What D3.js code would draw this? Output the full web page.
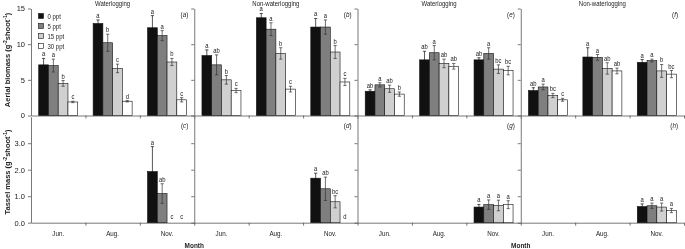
<!DOCTYPE html>
<html><head><meta charset="utf-8">
<script src="https://cdn.jsdelivr.net/npm/d3@7"></script>
<style>body{margin:0;background:#fff}svg{display:block;font-family:"Liberation Sans",Arial,sans-serif;filter:grayscale(1)}</style>
</head><body><svg id="c" width="685" height="249"></svg>
<script>
const months = ["Jun.", "Aug.", "Nov."];
const salinity = ["0 ppt", "5 ppt", "15 ppt", "30 ppt"];
const fills = ["#111111", "#7f7f7f", "#d0d0d0", "#ffffff"];
const topTicks = [0, 5, 10, 15];
const botTicks = [0, 1, 2, 3];
const panelTitles = ["Waterlogging", "Non-waterlogging", "Waterlogging", "Non-waterlogging"];
const topLabels = ["a", "b", "e", "f"];
const botLabels = ["c", "d", "g", "h"];

// Aerial biomass (top row) [month][salinity]
const aerialA = [[7.1, 7.0, 4.5, 1.9], [12.9, 10.2, 6.6, 2.0], [12.3, 11.2, 7.5, 2.2]];
const aerialAErr = [[0.9, 0.9, 0.4, 0.1], [0.5, 1.2, 0.6, 0.1], [1.7, 0.7, 0.5, 0.3]];
const aerialALet = [["a", "a", "b", "c"], ["a", "b", "c", "d"], ["a", "a", "b", "c"]];
const aerialB = [[8.4, 7.1, 5.0, 3.5], [13.7, 12.1, 8.7, 3.7], [12.4, 12.4, 8.9, 4.7]];
const aerialBErr = [[0.8, 1.4, 0.6, 0.3], [0.6, 0.9, 0.8, 0.4], [1.2, 1.0, 0.9, 0.5]];
const aerialBLet = [["a", "ab", "b", "c"], ["a", "a", "b", "c"], ["a", "a", "b", "c"]];
const aerialE = [[3.4, 4.3, 3.75, 3.0], [7.8, 8.8, 7.3, 6.9], [7.8, 8.7, 6.5, 6.3]];
const aerialEErr = [[0.2, 0.3, 0.5, 0.3], [1.2, 1.0, 0.6, 0.4], [0.3, 0.8, 0.6, 0.6]];
const aerialELet = [["ab", "a", "ab", "b"], ["ab", "a", "ab", "ab"], ["ab", "a", "bc", "bc"]];
const aerialF = [[3.5, 4.0, 2.8, 2.2], [8.2, 8.15, 6.6, 6.25], [7.45, 7.7, 6.25, 5.8]];
const aerialFErr = [[0.4, 0.4, 0.3, 0.2], [1.3, 0.4, 0.8, 0.4], [0.4, 0.2, 0.9, 0.5]];
const aerialFLet = [["ab", "a", "bc", "c"], ["a", "a", "ab", "ab"], ["a", "a", "b", "bc"]];

// Tassel mass (bottom row); null = not measured
const tasselC = [[null, null, null, null], [null, null, null, null], [1.93, 1.1, 0, 0]];
const tasselCErr = [[0, 0, 0, 0], [0, 0, 0, 0], [0.94, 0.37, 0, 0]];
const tasselCLet = [["", "", "", ""], ["", "", "", ""], ["a", "ab", "c", "c"]];
const tasselD = [[null, null, null, null], [null, null, null, null], [1.68, 1.28, 0.79, 0]];
const tasselDErr = [[0, 0, 0, 0], [0, 0, 0, 0], [0.19, 0.44, 0.23, 0]];
const tasselDLet = [["", "", "", ""], ["", "", "", ""], ["a", "ab", "bc", "d"]];
const tasselG = [[null, null, null, null], [null, null, null, null], [0.59, 0.68, 0.65, 0.68]];
const tasselGErr = [[0, 0, 0, 0], [0, 0, 0, 0], [0.1, 0.18, 0.2, 0.15]];
const tasselGLet = [["", "", "", ""], ["", "", "", ""], ["a", "a", "a", "a"]];
const tasselH = [[null, null, null, null], [null, null, null, null], [0.61, 0.64, 0.59, 0.46]];
const tasselHErr = [[0, 0, 0, 0], [0, 0, 0, 0], [0.1, 0.1, 0.15, 0.08]];
const tasselHLet = [["", "", "", ""], ["", "", "", ""], ["a", "a", "a", "a"]];

const topData = [[aerialA, aerialAErr, aerialALet], [aerialB, aerialBErr, aerialBLet], [aerialE, aerialEErr, aerialELet], [aerialF, aerialFErr, aerialFLet]];
const botData = [[tasselC, tasselCErr, tasselCLet], [tasselD, tasselDErr, tasselDLet], [tasselG, tasselGErr, tasselGLet], [tasselH, tasselHErr, tasselHLet]];

const svg = d3.select("#c");
const L = 31, R = 684;
const pw = (R - L) / 4;
const yTop = d3.scaleLinear().domain([0, 15]).range([115.5, 8.5]);
const yBot = d3.scaleLinear().domain([0, 4]).range([222.7, 116.7]);
const SX = 0.86; // horizontal squeeze of the original lettering

// text helper with slight horizontal compression
function txt(parent, x, y, size, anchor, s) {
  return parent.append("text").attr("transform", `translate(${x},${y}) scale(${SX},1)`)
    .attr("text-anchor", anchor).attr("font-size", size).attr("fill", "#222").text(s);
}

function drawPanel(i, row) {
  const px = L + i * pw;
  const y = row === 0 ? yTop : yBot;
  const [vals, errs, lets] = row === 0 ? topData[i] : botData[i];
  const g = svg.append("g");
  const x0 = d3.scaleBand().domain(months).range([px, px + pw]).padding(0);
  const x1 = d3.scaleBand().domain(salinity).range([0, x0.bandwidth()]).paddingInner(0).paddingOuter(0.79);
  // y axis
  const ax = d3.axisLeft(y).tickValues(row === 0 ? topTicks : botTicks).tickSize(3).tickSizeOuter(0).tickPadding(3);
  if (i > 0) ax.tickFormat("");
  const ya = g.append("g").attr("transform", `translate(${px},0)`).call(ax);
  ya.select(".domain").attr("stroke", "#555").attr("stroke-width", 0.8);
  ya.selectAll(".tick line").attr("stroke", "#555").attr("stroke-width", 0.8);
  ya.selectAll("text").attr("font-size", 7.5).attr("fill", "#222").attr("font-family", "Liberation Sans, Arial");
  // x axis
  const xl = d3.scaleLinear().domain([0, 3]).range([px, px + pw]);
  const xa = g.append("g").attr("transform", `translate(0,${y(0)})`)
    .call(d3.axisBottom(xl).tickValues([1, 2, 3]).tickFormat("").tickSize(3).tickSizeOuter(0));
  xa.select(".domain").attr("stroke", "#555").attr("stroke-width", 0.8);
  xa.selectAll(".tick line").attr("stroke", "#555").attr("stroke-width", 0.8);
  // bars
  months.forEach((m, mi) => {
    salinity.forEach((s, si) => {
      const v = vals[mi][si];
      if (v === null) return;
      const bx = x0(m) + x1(s), bw = x1.bandwidth();
      const cx = bx + bw / 2;
      const e = errs[mi][si];
      if (v > 0) {
        g.append("rect").attr("x", bx).attr("y", y(v)).attr("width", bw).attr("height", y(0) - y(v))
          .attr("fill", fills[si]).attr("stroke", "#111").attr("stroke-width", 0.6);
        if (e > 0) {
          const col = si === 0 ? "#111" : "#333";
          g.append("line").attr("x1", cx).attr("x2", cx).attr("y1", y(v + e)).attr("y2", y(Math.max(0, v - e))).attr("stroke", col).attr("stroke-width", 0.7);
          [v + e, v - e].forEach(t => g.append("line").attr("x1", cx - 1.6).attr("x2", cx + 1.6).attr("y1", y(t)).attr("y2", y(t)).attr("stroke", col).attr("stroke-width", 0.7));
        }
      }
      const lt = lets[mi][si];
      if (lt) {
        const ty = v > 0 ? y(v + e) - 2 : y(0) - 4;
        txt(g, cx, ty, 6.8, "middle", lt);
      }
    });
    if (row === 1) {
      txt(g, x0(m) + x0.bandwidth() / 2, 236, 7.3, "middle", m);
    }
  });
  // panel label
  const lab = row === 0 ? topLabels[i] : botLabels[i];
  const t = txt(g, px + pw - 6, row === 0 ? 17 : 128, 7.3, "end", null);
  t.append("tspan").text("(");
  t.append("tspan").attr("font-style", "italic").text(lab);
  t.append("tspan").text(")");
  if (row === 0) {
    txt(g, px + pw / 2, 5.5, 7, "middle", panelTitles[i]);
  }
}
for (let i = 0; i < 4; i++) { drawPanel(i, 0); drawPanel(i, 1); }

// legend
salinity.forEach((s, si) => {
  const ly = 16 + si * 10;
  svg.append("rect").attr("x", 38.5).attr("y", ly - 2.5).attr("width", 5).attr("height", 5).attr("fill", fills[si]).attr("stroke", "#111").attr("stroke-width", 0.6);
  txt(svg, 47.5, ly + 2.6, 7, "start", s);
});

// y titles
function yTitle(cy, main) {
  const t = svg.append("text").attr("transform", `translate(10,${cy}) rotate(-90)`).attr("text-anchor", "middle").attr("font-size", 7.5).attr("font-weight", "bold").attr("fill", "#222");
  t.append("tspan").text(main + " (g");
  t.append("tspan").attr("baseline-shift", "super").attr("font-size", 5).text("-2");
  t.append("tspan").text("shoot");
  t.append("tspan").attr("baseline-shift", "super").attr("font-size", 5).text("-1");
  t.append("tspan").text(")");
}
yTitle(60, "Aerial biomass");
yTitle(172, "Tassel mass");

// x titles
[L + pw, L + 3 * pw].forEach(cx => {
  txt(svg, cx, 248, 7.5, "middle", "Month").attr("font-weight", "bold");
});
</script></body></html>
